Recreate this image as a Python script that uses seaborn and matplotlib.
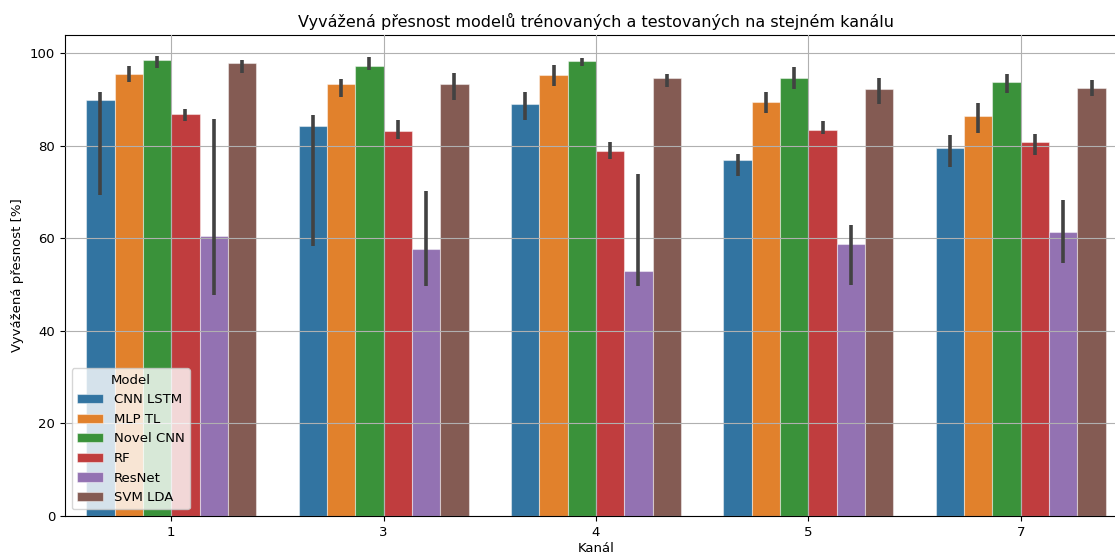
import matplotlib
matplotlib.use("Agg")
import matplotlib.pyplot as plt
import seaborn as sns
import pandas as pd

channels = ["1", "3", "4", "5", "7"]
models = ["CNN LSTM", "MLP TL", "Novel CNN", "RF", "ResNet", "SVM LDA"]

# mean balanced accuracy per model, one value per channel
cnn_lstm = [89.8, 84.2, 89.1, 76.9, 79.5]
mlp_tl = [95.5, 93.4, 95.2, 89.4, 86.5]
novel_cnn = [98.6, 97.1, 98.2, 94.6, 93.7]
rf = [86.8, 83.1, 78.8, 83.4, 80.8]
resnet = [60.5, 57.7, 52.9, 58.7, 61.3]
svm_lda = [97.8, 93.4, 94.7, 92.2, 92.4]

# lower / upper ends of the confidence intervals
cnn_lstm_lo = [69.3, 58.4, 85.6, 73.5, 75.4]
cnn_lstm_hi = [91.6, 86.6, 91.5, 78.2, 82.2]
mlp_tl_lo = [93.7, 90.4, 92.8, 87.1, 82.8]
mlp_tl_hi = [97.2, 94.5, 97.5, 91.5, 89.3]
novel_cnn_lo = [96.7, 96.3, 97.2, 92.3, 91.3]
novel_cnn_hi = [99.3, 99.1, 99.0, 96.9, 95.4]
rf_lo = [85.4, 81.5, 77.2, 82.5, 77.9]
rf_hi = [88.0, 85.5, 80.7, 85.4, 82.6]
resnet_lo = [47.8, 49.7, 49.7, 50.0, 54.6]
resnet_hi = [85.8, 70.3, 73.9, 62.9, 68.2]
svm_lda_lo = [95.7, 89.8, 92.7, 89.1, 90.8]
svm_lda_hi = [98.5, 95.6, 95.5, 94.7, 94.2]

means = [cnn_lstm, mlp_tl, novel_cnn, rf, resnet, svm_lda]
lows = [cnn_lstm_lo, mlp_tl_lo, novel_cnn_lo, rf_lo, resnet_lo, svm_lda_lo]
highs = [cnn_lstm_hi, mlp_tl_hi, novel_cnn_hi, rf_hi, resnet_hi, svm_lda_hi]

rows = []
for m, vals in zip(models, means):
    for ch, v in zip(channels, vals):
        rows.append({"Kanál": ch, "Model": m, "Přesnost": v})
df = pd.DataFrame(rows)

plt.rcParams["font.size"] = 9.5

fig = plt.figure(figsize=(11.15, 5.53), dpi=100)
ax = fig.add_axes([65 / 1115, 37 / 553, 1062 / 1115, 481 / 553])

sns.barplot(data=df, x="Kanál", y="Přesnost", hue="Model",
            order=channels, hue_order=models, errorbar=None, ax=ax,
            edgecolor=(1, 1, 1, 0.45), linewidth=0.8)

# confidence interval whiskers on top of each bar
for container, lo, hi in zip(ax.containers, lows, highs):
    for bar, l, h in zip(container, lo, hi):
        xc = bar.get_x() + bar.get_width() / 2
        ax.plot([xc, xc], [l, h], color="#424242", lw=2.6,
                solid_capstyle="butt", zorder=3)

ax.set_ylim(0, 103.9)
ax.set_xlim(-0.5, 4.5)
ax.set_axisbelow(False)
ax.grid(True, color="#b0b0b0", lw=0.8)
ax.set_title("Vyvážená přesnost modelů trénovaných a testovaných na stejném kanálu",
             fontsize=11.5)
ax.set_xlabel("Kanál", labelpad=2.5)
ax.set_ylabel("Vyvážená přesnost [%]")
ax.legend(title="Model", loc="lower left", fontsize=9.5, title_fontsize=9.5)

fig.savefig("out.png", dpi=100)
